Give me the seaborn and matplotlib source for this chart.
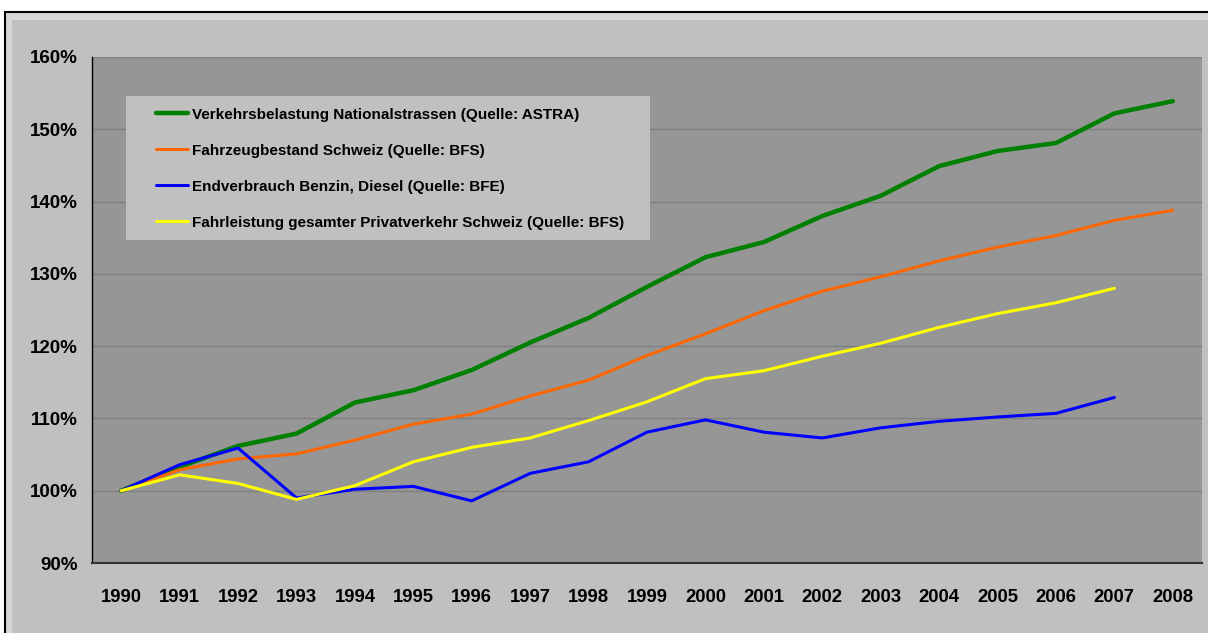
import numpy as np
import pandas as pd
import matplotlib
matplotlib.use("Agg")
import matplotlib.pyplot as plt
from matplotlib.patches import Rectangle
from matplotlib.ticker import FixedLocator
import seaborn as sns

years = [str(y) for y in range(1990, 2009)]

verkehr = [100, 103.3, 106.2, 107.9, 112.2, 113.9, 116.7, 120.5, 123.9, 128.2,
           132.3, 134.4, 138.0, 140.8, 144.9, 147.0, 148.1, 152.2, 153.9]
fahrzeug = [100, 102.9, 104.4, 105.1, 107.0, 109.2, 110.6, 113.1, 115.3, 118.7,
            121.7, 124.9, 127.6, 129.6, 131.8, 133.7, 135.3, 137.4, 138.8]
benzin = [100, 103.6, 105.9, 99.0, 100.2, 100.6, 98.6, 102.4, 104.0, 108.1,
          109.8, 108.1, 107.3, 108.7, 109.6, 110.2, 110.7, 112.9, np.nan]
fahrleistung = [100, 102.2, 101.0, 98.8, 100.7, 104.0, 106.0, 107.3, 109.7, 112.3,
                115.5, 116.6, 118.6, 120.4, 122.6, 124.5, 126.0, 128.0, np.nan]

series = [
    ("Verkehrsbelastung Nationalstrassen (Quelle: ASTRA)", verkehr, "#008000", 3.2),
    ("Fahrzeugbestand Schweiz (Quelle: BFS)", fahrzeug, "#ff6600", 2.2),
    ("Endverbrauch Benzin, Diesel (Quelle: BFE)", benzin, "#0000ff", 2.2),
    ("Fahrleistung gesamter Privatverkehr Schweiz (Quelle: BFS)", fahrleistung, "#ffff00", 2.2),
]

sns.set_style("white")
plt.rcParams["font.family"] = ["Liberation Sans", "DejaVu Sans"]
plt.rcParams["font.weight"] = "bold"
plt.rcParams["text.color"] = "black"
plt.rcParams["xtick.color"] = "black"
plt.rcParams["ytick.color"] = "black"

fig = plt.figure(figsize=(12.08, 6.33), dpi=100, facecolor="white")
W, H = 1208, 633
# outer chart frame (Excel style)
fig.patches.append(Rectangle((5 / W, -0.1), 1.2, (H - 12) / H + 0.1, transform=fig.transFigure,
                             facecolor="#d6d6d6", edgecolor="black", linewidth=1.5, zorder=-2))
fig.patches.append(Rectangle((12 / W, -0.1), 1.2, (H - 20) / H + 0.1, transform=fig.transFigure,
                             facecolor="#c0c0c0", edgecolor="none", zorder=-1))

ax = fig.add_axes([92 / W, 70 / H, 1110 / W, 506 / H])
ax.set_zorder(1)
ax.set_facecolor("#969696")

x = np.arange(len(years))
for name, vals, col, lw in series:
    df = pd.DataFrame({"x": x, "v": vals})
    sns.lineplot(data=df, x="x", y="v", ax=ax, color=col, linewidth=lw, label=name)

ax.set_xlim(-0.5, len(years) - 0.5)
ax.set_ylim(90, 160)
ax.set_yticks(range(90, 161, 10))
ax.set_yticklabels([f"{v}%" for v in range(90, 161, 10)], fontsize=13.5, fontweight="bold")
ax.set_xticks(x)
ax.set_xticklabels(years, fontsize=13.3, fontweight="bold")
ax.xaxis.set_minor_locator(FixedLocator(np.arange(-0.5, len(years), 1)))
ax.tick_params(axis="x", which="major", length=0, pad=19, labelcolor="black")
ax.tick_params(axis="x", which="minor", length=5, width=1, color="#333333", direction="out")
ax.tick_params(axis="y", length=5, width=1, color="#333333", direction="out", pad=5,
               labelcolor="black")
ax.yaxis.grid(True, color="#7f7f7f", linewidth=1)
ax.set_axisbelow(True)
ax.set_xlabel("")
ax.set_ylabel("")
for s in ["top", "right"]:
    ax.spines[s].set_visible(False)
ax.spines["left"].set_color("black")
ax.spines["bottom"].set_color("#333333")
ax.spines["left"].set_linewidth(1)
ax.spines["bottom"].set_linewidth(1.5)

# legend box
ax.add_patch(Rectangle((34 / 1110, (563 - 240) / 506), 524 / 1110, 144 / 506,
                       transform=ax.transAxes, facecolor="#c0c0c0", edgecolor="none", zorder=3))
leg = ax.legend(loc="upper left", bbox_to_anchor=(56 / 1110, (563 - 100) / 506),
                frameon=False, borderpad=0, labelspacing=1.44, handlelength=2.1,
                handletextpad=0.26, prop={"size": 11, "weight": "bold"})
for t in leg.get_texts():
    t.set_color("black")
leg.set_zorder(4)

fig.savefig("out.png", dpi=100, facecolor=fig.get_facecolor())
